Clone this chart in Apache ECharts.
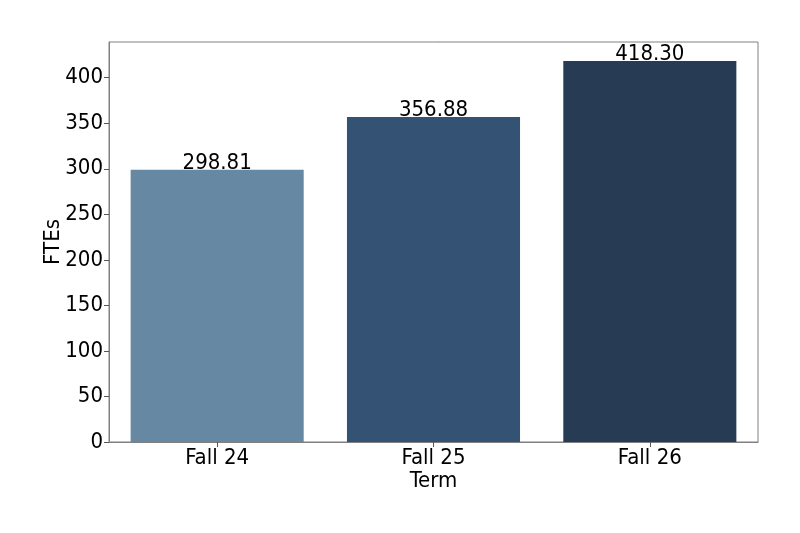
<!DOCTYPE html>
<html>
<head>
<meta charset="utf-8">
<script src="https://cdn.jsdelivr.net/npm/echarts@6/dist/echarts.min.js"></script>
<style>
  html, body { margin: 0; padding: 0; background: #fff; }
  #main { width: 800px; height: 533px; }
</style>
</head>
<body>
<div id="main"></div>
<script>
// data
var terms = ['Fall 24', 'Fall 25', 'Fall 26'];
var ftes = [298.81, 356.88, 418.30];
var barColors = ['#6788a3', '#345273', '#283b54'];
var yTicks = [0, 50, 100, 150, 200, 250, 300, 350, 400];

var dom = document.getElementById('main');
var myChart = echarts.init(dom);
var font = 'DejaVu Sans Condensed';

var option = {
    animation: false,
    textStyle: { fontFamily: font },
    grid: {
        left: 109,
        right: 42,
        top: 42,
        bottom: 91,
        show: true,
        borderColor: '#808080',
        borderWidth: 1
    },
    xAxis: {
        type: 'category',
        data: terms,
        name: 'Term',
        nameLocation: 'middle',
        nameGap: 28,
        nameMoveOverlap: false,
        nameTextStyle: { fontSize: 22, color: '#000', fontFamily: font },
        axisLine: { show: true, lineStyle: { color: '#808080', width: 1 } },
        axisTick: { show: true, alignWithLabel: true, length: 5, lineStyle: { color: '#555' } },
        axisLabel: { fontSize: 22, color: '#000', margin: 5, fontFamily: font }
    },
    yAxis: {
        type: 'value',
        min: 0,
        max: 439.2,
        interval: 50,
        name: 'FTEs',
        nameLocation: 'middle',
        nameGap: 45,
        nameRotate: 90,
        nameMoveOverlap: false,
        nameTextStyle: { fontSize: 22, color: '#000', fontFamily: font },
        splitLine: { show: false },
        axisLine: { show: true, lineStyle: { color: '#808080', width: 1 } },
        axisTick: { show: true, length: 5, customValues: yTicks, lineStyle: { color: '#555' } },
        axisLabel: { fontSize: 22, color: '#000', margin: 6, customValues: yTicks, fontFamily: font }
    },
    series: [
        {
            type: 'bar',
            barWidth: '80%',
            data: ftes.map(function (v, i) {
                return { value: v, itemStyle: { color: barColors[i] } };
            }),
            label: {
                show: true,
                position: 'top',
                distance: -4,
                fontSize: 22,
                color: '#000',
                fontFamily: font,
                formatter: function (p) { return p.value.toFixed(2); }
            }
        }
    ]
};
myChart.setOption(option, true);
</script>
</body>
</html>
